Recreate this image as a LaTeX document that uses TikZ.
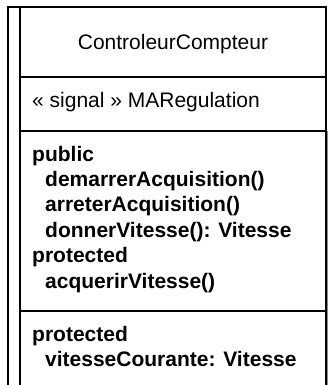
\documentclass[tikz,border=0pt]{standalone}
\usepackage{fontspec}
\setmainfont{Liberation Sans}
\begin{document}
\begin{tikzpicture}[x=1pt,y=-1pt,
  frame/.style={line width=1.3pt, line cap=rect},
  shade/.style={line width=1pt, black!45},
  txt/.style={anchor=base west, inner sep=0pt, font=\fontsize{21}{25}\selectfont},
  btxt/.style={anchor=base west, inner sep=0pt, font=\fontsize{21}{25}\selectfont\bfseries}]
  \useasboundingbox (0,0) rectangle (332,385);
  % soft shadow along the right edge
  \draw[shade] (327.6,131) -- (327.6,385);
  % outer frame (open at the bottom) and the side strip
  \draw[frame] (8,385) -- (8,7) -- (326,7) -- (326,385);
  \draw[frame] (20,7) -- (20,385);
  % compartment separators
  \draw[frame] (20,77) -- (326,77);
  \draw[frame] (20,131) -- (326,131);
  \draw[frame] (20,311) -- (326,311);
  % class name
  \node[txt, anchor=base] (name) at (173,50) {ControleurCompteur};
  % signal compartment
  \node[txt] (sig) at (32,107) {« signal » MARegulation};
  % operations
  \node[btxt] (pub) at (32,161) {public};
  \node[btxt] (op1) at (45,186.4) {demarrerAcquisition()};
  \node[btxt] (op2) at (45,211.8) {arreterAcquisition()};
  \node[btxt] (op3) at (45,237.2) {donnerVitesse(): Vitesse};
  \node[btxt] (prot1) at (32,262.6) {protected};
  \node[btxt] (op4) at (45,288) {acquerirVitesse()};
  % attributes
  \node[btxt] (prot2) at (32,341.7) {protected};
  \node[btxt] (att1) at (45,366.7) {vitesseCourante: Vitesse};
\end{tikzpicture}
\end{document}
